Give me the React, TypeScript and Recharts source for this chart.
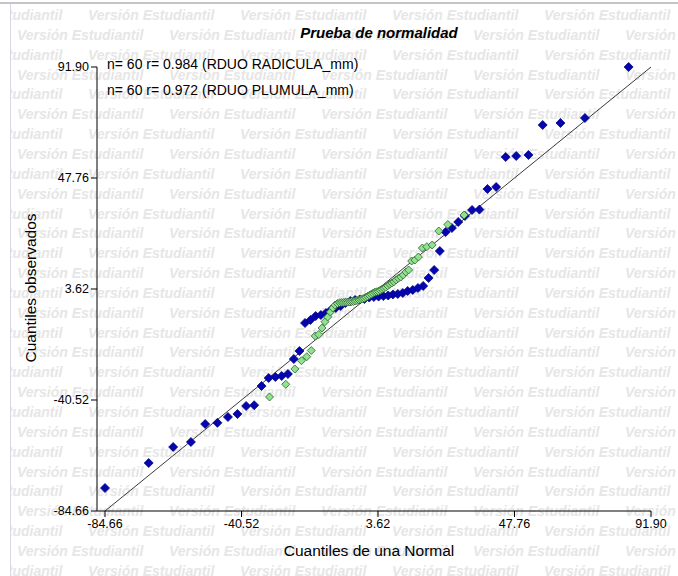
import React from 'react';
import { ReferenceLine, Scatter, ScatterChart, XAxis, YAxis } from 'recharts';

const axisTicks = [-84.66, -40.52, 3.62, 47.76, 91.9];

// RDUO RADICULA_mm (azul)
const radiculaX = [
  -84.66, -70.53, -62.62, -56.88, -52.26, -48.31, -44.91, -41.83, -39.02, -36.42,
  -34.04, -31.73, -29.57, -27.52, -25.51, -23.61, -21.78, -19.98, -18.23, -16.54,
  -14.86, -13.21, -11.64, -10.03, -8.45, -6.92, -5.34, -3.81, -2.27, -0.77,
  0.77, 2.27, 3.81, 5.34, 6.92, 8.45, 10.03, 11.64, 13.21, 14.86,
  16.54, 18.23, 19.98, 21.78, 23.61, 25.51, 27.52, 29.57, 31.73, 34.04,
  36.42, 39.02, 41.83, 44.91, 48.31, 52.26, 56.88, 62.62, 70.53, 84.66,
];
const radiculaY = [
  -75.52, -65.57, -59.21, -57.22, -50.07, -49.6, -47.28, -46.09, -42.91, -42.6,
  -34.95, -31.77, -31.37, -30.97, -30.18, -24.22, -21.04, -9.9, -8.71, -7.12,
  -6.72, -5.92, -4.73, -3.93, -3.14, -1.95, -1.15, -0.76, -0.56, -0.36,
  0.24, 0.44, 0.6, 0.8, 1.04, 1.44, 1.64, 2.03, 2.83, 3.23,
  4.02, 4.82, 7.99, 11.18, 18.73, 26.29, 27.88, 30.26, 32.65, 35.03,
  35.2, 43.39, 44.18, 56.11, 56.51, 56.91, 68.84, 69.63, 71.62, 91.9,
];

// RDUO PLUMULA_mm (verde)
const plumulaX = [
  -31.46, -26.21, -23.27, -21.13, -19.42, -17.95, -16.69, -15.54, -14.5, -13.53,
  -12.65, -11.79, -10.99, -10.23, -9.48, -8.77, -8.09, -7.43, -6.77, -6.15,
  -5.52, -4.91, -4.32, -3.73, -3.14, -2.57, -1.99, -1.41, -0.84, -0.29,
  0.29, 0.84, 1.41, 1.99, 2.57, 3.14, 3.73, 4.32, 4.91, 5.52,
  6.15, 6.77, 7.43, 8.09, 8.77, 9.48, 10.23, 10.99, 11.79, 12.65,
  13.53, 14.5, 15.54, 16.69, 17.95, 19.42, 21.13, 23.27, 26.21, 31.46,
];
const plumulaY = [
  -39.33, -34.28, -28.19, -24.89, -23.3, -20.84, -15.07, -14.47, -11.89, -9.38,
  -7.52, -5.53, -3.94, -2.74, -2.15, -1.83, -1.75, -1.7, -1.65, -1.6,
  -1.5, -1.4, -1.35, -1.15, -0.95, -0.7, -0.5, -0.3, -0.1, 0.3,
  0.7, 1.1, 1.5, 1.9, 2.3, 2.5, 2.7, 3.1, 3.5, 3.9,
  4.3, 4.9, 5.5, 6.0, 6.5, 7.2, 7.9, 8.39, 9.19, 10.38,
  11.18, 14.75, 15.15, 16.34, 19.92, 20.44, 21.12, 26.68, 29.27, 33.05,
];

const legendLines = ['n= 60 r= 0.984 (RDUO RADICULA_mm)', 'n= 60 r= 0.972 (RDUO PLUMULA_mm)'];
const watermark = 'Versión Estudiantil';

const radicula = radiculaX.map((x, i) => ({ x, y: radiculaY[i] }));
const plumula = plumulaX.map((x, i) => ({ x, y: plumulaY[i] }));

const W = 678;
const H = 576;
const font = '"Liberation Sans", Arial, sans-serif';

const diamond = (r: number, fill: string, stroke: string) => (props: any) => {
  const { cx, cy } = props;
  if (cx == null || cy == null) return null;
  return (
    <path
      d={`M${cx},${cy - r}L${cx + r},${cy}L${cx},${cy + r}L${cx - r},${cy}Z`}
      fill={fill}
      stroke={stroke}
      strokeWidth={0.8}
    />
  );
};

const Background = () => {
  const rows = [];
  for (let k = 0; k < 30; k++) {
    const y = 20 + k * 19.85;
    const start = k % 2 === 0 ? -64 : 17;
    for (let x = start; x < W; x += 152) {
      rows.push(
        <text key={`${k}-${x}`} x={x} y={y} fontSize={14} fontStyle="italic" fontWeight="bold" fill="#e6e6e6">
          {watermark}
        </text>,
      );
    }
  }
  return (
    <svg width={W} height={H} style={{ position: 'absolute', left: 0, top: 0 }} fontFamily={font}>
      <defs>
        <clipPath id="wm">
          <rect x={11} y={5} width={W - 11} height={H - 5} />
        </clipPath>
      </defs>
      <rect x={0} y={0} width={W} height={H} fill="#fff" />
      <g clipPath="url(#wm)">{rows}</g>
      <rect x={0} y={2} width={W} height={2} fill="#c4c4c4" />
      <rect x={10} y={4} width={1} height={H - 4} fill="#d4d9e2" />
      <text x={379} y={38} textAnchor="middle" fontSize={15} fontStyle="italic" fontWeight="bold" fill="#000">
        Prueba de normalidad
      </text>
      {legendLines.map((t, i) => (
        <text key={t} x={107} y={69 + i * 26} fontSize={14} fill="#000">
          {t}
        </text>
      ))}
      <text x={369} y={556} textAnchor="middle" fontSize={15.5} fill="#000">
        Cuantiles de una Normal
      </text>
      <text
        x={30}
        y={288}
        textAnchor="middle"
        dominantBaseline="central"
        fontSize={15.5}
        fill="#000"
        transform="rotate(-90, 30, 288)"
      >
        Cuantiles observados
      </text>
    </svg>
  );
};

export default function App() {
  const tickStyle = { fill: '#000', fontSize: 12.5, fontFamily: font };
  return (
    <div style={{ position: 'absolute', left: 0, top: 0, width: W, height: H }}>
      <Background />
      <div style={{ position: 'absolute', left: 0, top: 0 }}>
        <ScatterChart width={W} height={H} margin={{ top: 67, right: 27, bottom: 0, left: 0 }}>
          <XAxis
            type="number"
            dataKey="x"
            domain={[-84.66, 91.9]}
            ticks={axisTicks}
            interval={0}
            padding={{ left: 8, right: 0 }}
            height={65}
            tickSize={6}
            tick={tickStyle}
            tickFormatter={(v: number) => v.toFixed(2)}
            axisLine={{ stroke: '#000' }}
            tickLine={{ stroke: '#000' }}
          />
          <YAxis
            type="number"
            dataKey="y"
            domain={[-84.66, 91.9]}
            ticks={axisTicks}
            interval={0}
            width={97}
            tickSize={6}
            tick={tickStyle}
            tickFormatter={(v: number) => v.toFixed(2)}
            axisLine={{ stroke: '#000' }}
            tickLine={{ stroke: '#000' }}
          />
          <ReferenceLine
            segment={[
              { x: -84.66, y: -84.66 },
              { x: 91.9, y: 91.9 },
            ]}
            stroke="#3a3a3a"
            strokeWidth={1}
          />
          <Scatter data={radicula} isAnimationActive={false} shape={diamond(4.5, '#0505b0', '#050585')} />
          <Scatter data={plumula} isAnimationActive={false} shape={diamond(4, '#8fe38f', '#2e5e2e')} />
        </ScatterChart>
      </div>
    </div>
  );
}
